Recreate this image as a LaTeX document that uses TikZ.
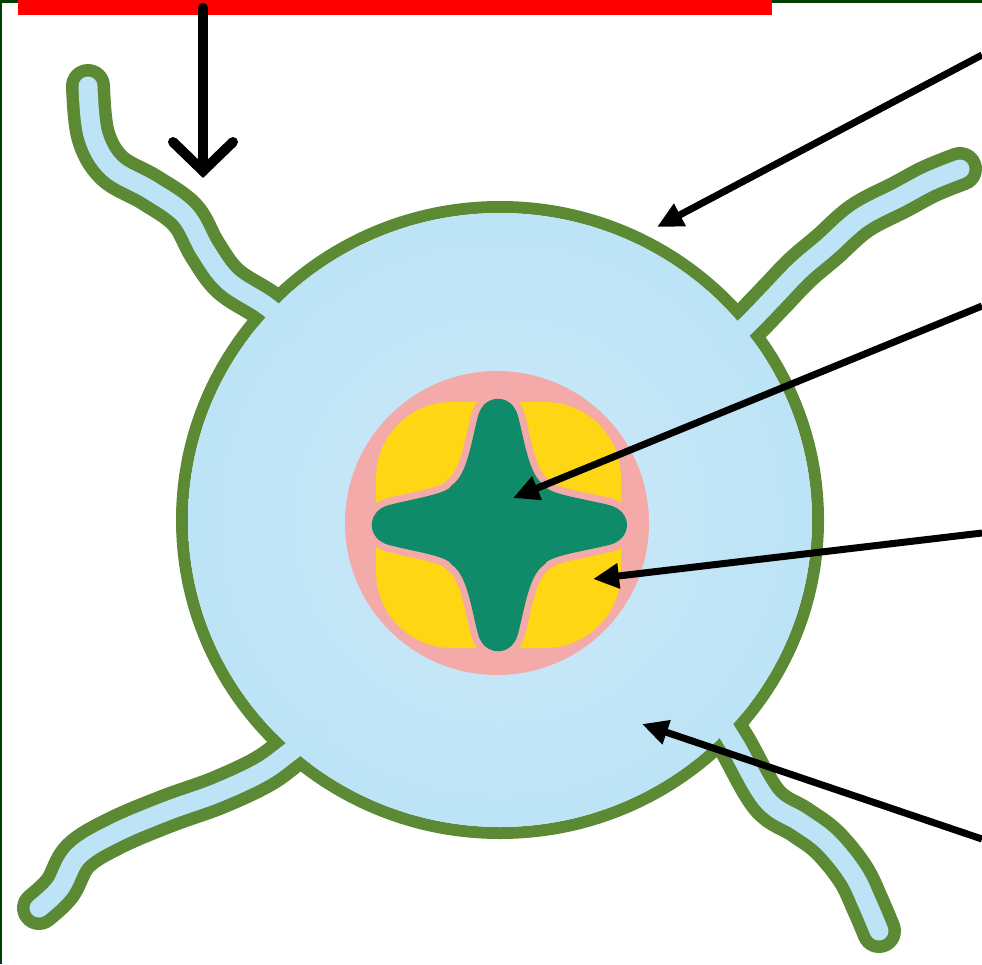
\documentclass[tikz,border=0pt]{standalone}
\usetikzlibrary{arrows.meta}
\definecolor{framegreen}{RGB}{0,64,0}
\definecolor{membrane}{RGB}{92,137,52}
\definecolor{cyto}{RGB}{188,227,246}
\definecolor{flagblue}{RGB}{188,227,246}
\definecolor{nucpink}{RGB}{245,170,170}
\definecolor{granule}{RGB}{255,214,20}
\definecolor{starteal}{RGB}{16,139,106}
\definecolor{barred}{RGB}{255,0,0}

\tikzset{
  tube/.style={line cap=round, line join=round},
  outertube/.style={tube, membrane, line width=44pt},
  innertube/.style={tube, flagblue, line width=19pt},
  pointer/.style={line width=7pt, -{Triangle[length=26pt,width=24pt]}},
  flagTL/.style={insert path={plot[smooth, tension=0.6] coordinates
    {(88,86) (93,135) (112,168) (150,190) (185,215) (205,250) (228,281) (265,305) (292,327)}}},
  flagTR/.style={insert path={plot[smooth, tension=0.6] coordinates
    {(960,169) (930,181) (900,197) (860,218) (827,247) (800,270) (775,296) (748,324) (725,345)}}},
  flagBL/.style={insert path={plot[smooth, tension=0.6] coordinates
    {(39,908) (60,888) (78,856) (115,833) (167,811) (217,793) (262,772) (290,752) (315,733)}}},
  flagBR/.style={insert path={plot[smooth, tension=0.6] coordinates
    {(716,715) (735,745) (767,800) (800,822) (827,842) (853,874) (868,905) (879,931)}}},
}

\begin{document}
\begin{tikzpicture}[x=1pt,y=-1pt]
\useasboundingbox (0,0) rectangle (982,964);
\fill[white] (0,0) rectangle (982,964);

% frame edges
\fill[framegreen] (0,0) rectangle (982,3);
\fill[framegreen] (0,0) rectangle (2,964);

% cell membrane and flagella walls
\draw[membrane, line width=12pt] (500,520) ellipse [x radius=318, y radius=313];
\draw[outertube, flagTL];
\draw[outertube, flagTR];
\draw[outertube, flagBL];
\draw[outertube, flagBR];

% cytoplasm, lighter toward the middle
\shade[inner color=cyto!75!white, outer color=cyto] (500,520) ellipse [x radius=312, y radius=307];

% flagella channels, open into the cytoplasm
\draw[innertube, flagTL];
\draw[innertube, flagTR];
\draw[innertube, flagBL];
\draw[innertube, flagBR];

% nucleus
\fill[nucpink] (497,523) circle [radius=152];
\fill[granule, rounded corners=76pt] (376,402) rectangle (621,648);

% four-pointed core with a thin pink rim
\begin{scope}[shift={(498,525)}]
\path[preaction={draw=nucpink, line width=14pt, line join=round}, fill=starteal]
  (-46,-40)
  .. controls (-31,-50) and (-27,-82) .. (-20,-109)
  .. controls (-14,-132) and (14,-132) .. (20,-109)
  .. controls (27,-82) and (31,-50) .. (46,-40)
  .. controls (50,-31) and (82,-27) .. (111,-20)
  .. controls (135,-14) and (135,14) .. (111,20)
  .. controls (82,27) and (50,31) .. (46,40)
  .. controls (31,50) and (27,82) .. (20,109)
  .. controls (14,132) and (-14,132) .. (-20,109)
  .. controls (-27,82) and (-31,50) .. (-46,40)
  .. controls (-50,31) and (-82,27) .. (-109,20)
  .. controls (-132,14) and (-132,-14) .. (-109,-20)
  .. controls (-82,-27) and (-50,-31) .. (-46,-40) -- cycle;
\end{scope}

% label bar
\node[fill=barred, inner sep=0pt, minimum width=754pt, minimum height=15pt, anchor=north west] (bar) at (18,0) {};

% vertical pointer with an open head
\coordinate (v0) at (203,8);
\coordinate (v1) at (203,171);
\draw[line width=10pt, line cap=round] (v0) -- (v1);
\draw[line width=10pt, line cap=round, line join=miter] (v1) ++(-30,-29) -- (v1) -- ++(30,-29);

% pointers from the right edge
\coordinate (p1s) at (982,55);  \coordinate (p1e) at (657,227);
\coordinate (p2s) at (982,306); \coordinate (p2e) at (513,498);
\coordinate (p3s) at (982,533); \coordinate (p3e) at (593,579);
\coordinate (p4s) at (982,839); \coordinate (p4e) at (642,724);
\draw[pointer] (p1s) -- (p1e);
\draw[pointer] (p2s) -- (p2e);
\draw[pointer] (p3s) -- (p3e);
\draw[pointer] (p4s) -- (p4e);
\end{tikzpicture}
\end{document}
